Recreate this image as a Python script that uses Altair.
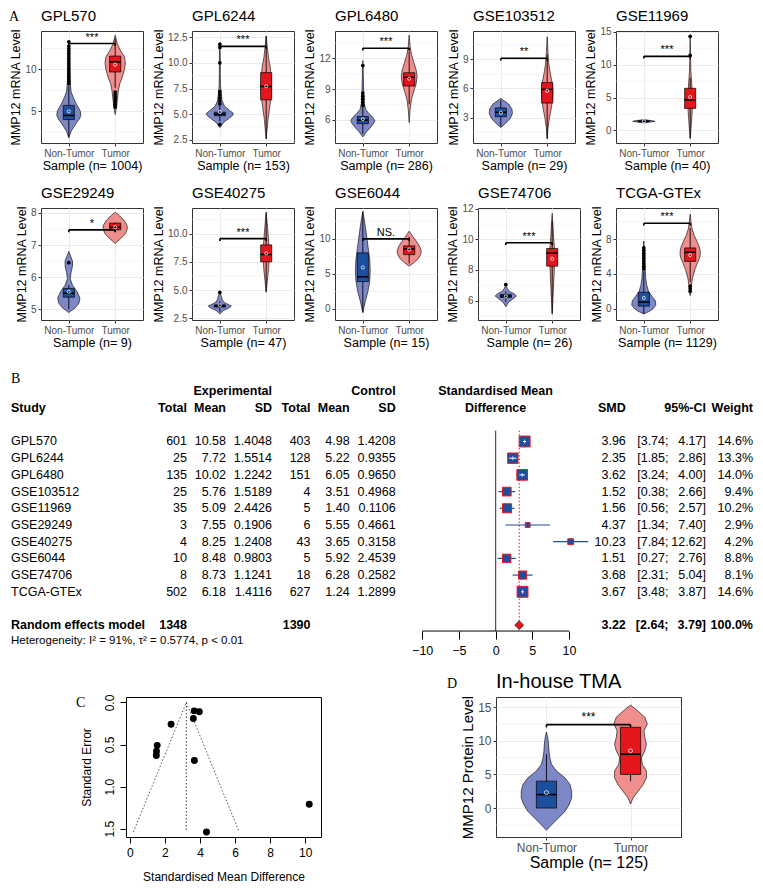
import altair as alt
import pandas as pd

FONT = "Liberation Sans"
SERIF = "Liberation Serif"

# ======================= DATA =======================
# ---- Panel A: per-dataset violin plots ----
PANELS = ["GPL570", "GPL6244", "GPL6480", "GSE103512", "GSE11969",
          "GSE29249", "GSE40275", "GSE6044", "GSE74706", "TCGA-GTEx"]
SAMPLE_N = [1004, 153, 286, 29, 40, 9, 47, 15, 26, 1129]
Y_DOMAIN = [[1.2, 14.6], [2.2, 13.1], [3.7, 14.7], [0.4, 11.9], [-1.9, 15.1],
            [4.67, 8.15], [2.36, 12.26], [-1.57, 14.4], [4.73, 12.05], [-1.3, 11.6]]
Y_TICKS = [[5, 10], [2.5, 5, 7.5, 10, 12.5], [6, 9, 12], [3, 6, 9], [0, 5, 10, 15],
           [5, 6, 7, 8], [2.5, 5, 7.5, 10], [0, 5, 10], [6, 8, 10, 12], [0, 4, 8]]
SIG = ["***", "***", "***", "**", "***", "*", "***", "NS.", "***", "***"]
BRACKET_Y = [13.1, 11.6, 13.0, 9.1, 11.25, 7.47, 9.55, 10.0, 9.78, 9.85]

# box statistics, Non-Tumor
NT_Q1 = [4.0, 4.85, 5.6, 3.1, 1.35, 5.38, 3.5, 3.9, 6.2, 0.3]
NT_MED = [4.5, 5.0, 5.95, 3.55, 1.4, 5.5, 3.6, 4.6, 6.3, 0.75]
NT_Q3 = [5.7, 5.2, 6.3, 4.0, 1.45, 5.65, 3.7, 8.0, 6.4, 1.9]
NT_LO = [2.0, 4.3, 4.6, 2.1, 1.25, 5.0, 3.1, -0.5, 5.9, -0.6]
NT_HI = [8.0, 5.8, 7.3, 4.8, 1.55, 5.75, 4.0, 13.9, 6.6, 4.3]
NT_OUT = [[8.3, 8.6, 8.9, 9.2, 9.5, 9.8, 10.1, 10.4, 10.7, 11.0, 11.3, 11.6, 11.9, 12.2,
           12.5, 12.8, 13.3],
          [4.0, 6.0, 6.3, 6.6, 6.9, 7.2, 10.0, 11.5, 11.8],
          [7.4, 7.7, 8.0, 8.3, 8.6, 11.3],
          [], [], [6.45], [4.8], [], [7.05],
          [4.6, 4.9, 5.2, 5.5, 5.8, 6.1, 6.4, 6.7, 7.0]]
# box statistics, Tumor
T_Q1 = [9.7, 6.4, 9.3, 4.5, 3.35, 7.47, 7.5, 7.75, 8.25, 5.45]
T_MED = [10.9, 7.7, 10.15, 5.9, 4.65, 7.55, 8.15, 8.55, 9.1, 6.5]
T_Q3 = [11.6, 9.05, 10.6, 6.6, 6.4, 7.68, 9.0, 9.0, 9.4, 7.0]
T_LO = [7.8, 2.6, 7.5, 0.9, -1.2, 7.4, 4.9, 6.5, 5.2, 3.1]
T_HI = [13.7, 12.6, 12.7, 9.5, 8.0, 7.7, 11.8, 10.3, 11.2, 9.3]
T_OUT = [[5.5, 5.8, 6.1, 6.4, 6.7, 7.0, 7.3], [], [], [], [11.4, 14.3],
         [], [], [], [], [2.0, 2.3, 2.6]]

# violin outlines (value, half width in category units)
NT_VY = [[1.8, 2.6, 3.5, 4.1, 4.5, 5.0, 5.5, 6.0, 6.6, 7.3, 8.5, 10, 11.5, 13.3],
         [3.7, 4.2, 4.6, 4.9, 5.1, 5.4, 5.8, 6.3, 7.0, 7.8, 9, 10.5, 12.0],
         [4.3, 4.8, 5.2, 5.6, 5.9, 6.2, 6.6, 7.0, 7.6, 8.5, 10, 11.8],
         [2.0, 2.4, 2.9, 3.4, 3.9, 4.4, 4.7, 5.0],
         [1.15, 1.3, 1.4, 1.5, 1.65],
         [4.9, 5.05, 5.2, 5.35, 5.55, 5.75, 5.95, 6.15, 6.35, 6.5, 6.65, 6.8],
         [2.9, 3.2, 3.45, 3.6, 3.75, 3.95, 4.2, 4.5, 4.8],
         [-0.5, 1, 2.5, 4, 5.5, 7, 8.5, 10, 11.5, 12.8, 13.9],
         [5.6, 5.9, 6.1, 6.3, 6.45, 6.6, 6.8, 7.05],
         [-0.6, -0.3, 0.0, 0.4, 0.9, 1.4, 2.0, 2.8, 3.6, 4.5, 5.5, 6.5, 7.8]]
NT_VW = [[0, 0.05, 0.15, 0.23, 0.26, 0.25, 0.2, 0.15, 0.1, 0.05, 0.03, 0.02, 0.015, 0],
         [0, 0.08, 0.2, 0.28, 0.29, 0.2, 0.1, 0.05, 0.03, 0.015, 0.01, 0.01, 0],
         [0, 0.08, 0.16, 0.23, 0.26, 0.22, 0.13, 0.06, 0.03, 0.02, 0.012, 0],
         [0, 0.1, 0.2, 0.25, 0.24, 0.17, 0.08, 0],
         [0, 0.16, 0.24, 0.16, 0],
         [0, 0.14, 0.22, 0.24, 0.18, 0.08, 0.03, 0.05, 0.08, 0.08, 0.04, 0],
         [0, 0.08, 0.21, 0.25, 0.17, 0.08, 0.05, 0.03, 0],
         [0, 0.05, 0.11, 0.15, 0.16, 0.15, 0.12, 0.09, 0.06, 0.03, 0],
         [0, 0.06, 0.15, 0.23, 0.18, 0.08, 0.03, 0],
         [0, 0.12, 0.2, 0.26, 0.25, 0.18, 0.1, 0.06, 0.04, 0.03, 0.02, 0.015, 0]]
T_VY = [[4.6, 5.5, 6.5, 7.5, 8.3, 9.2, 10.0, 10.8, 11.5, 12.2, 13.0, 14.1],
        [2.6, 3.5, 4.5, 5.5, 6.5, 7.5, 8.5, 9.5, 10.5, 11.5, 12.6],
        [5.7, 7.0, 8.0, 8.8, 9.5, 10.2, 10.9, 11.6, 12.4, 13.2, 14.3],
        [0.8, 2.0, 3.0, 4.0, 5.0, 5.7, 6.5, 7.5, 8.5, 9.5, 10.5, 11.3],
        [-1.2, 0, 1.5, 3, 4.5, 6, 7.5, 9, 11, 12.5, 14.3],
        [7.05, 7.2, 7.35, 7.5, 7.6, 7.75, 7.9, 8.02],
        [4.8, 6.0, 7.0, 8.0, 8.6, 9.5, 10.5, 11.9],
        [6.1, 6.6, 7.2, 7.8, 8.3, 9.0, 9.7, 10.3, 11.1],
        [5.1, 6.0, 7.0, 8.0, 8.8, 9.4, 10.2, 11.0, 11.7],
        [1.5, 2.5, 3.5, 4.5, 5.2, 5.8, 6.3, 6.9, 7.6, 8.4, 9.2, 10.0, 10.9]]
T_VW = [[0, 0.03, 0.05, 0.07, 0.1, 0.16, 0.2, 0.22, 0.2, 0.12, 0.05, 0],
        [0, 0.02, 0.04, 0.07, 0.1, 0.115, 0.11, 0.09, 0.05, 0.025, 0],
        [0, 0.02, 0.05, 0.1, 0.15, 0.17, 0.15, 0.1, 0.05, 0.02, 0],
        [0, 0.02, 0.05, 0.09, 0.12, 0.125, 0.11, 0.07, 0.035, 0.02, 0.01, 0],
        [0, 0.015, 0.03, 0.045, 0.05, 0.045, 0.03, 0.015, 0.008, 0.006, 0],
        [0, 0.12, 0.22, 0.26, 0.26, 0.2, 0.1, 0],
        [0, 0.03, 0.055, 0.065, 0.065, 0.05, 0.03, 0],
        [0, 0.1, 0.2, 0.25, 0.26, 0.22, 0.15, 0.08, 0],
        [0, 0.015, 0.03, 0.045, 0.055, 0.05, 0.03, 0.015, 0],
        [0, 0.02, 0.05, 0.1, 0.15, 0.2, 0.22, 0.21, 0.16, 0.09, 0.04, 0.02, 0]]

# ---- Panel B: meta-analysis table ----
STUDIES = PANELS
E_TOTAL = [601, 25, 135, 25, 35, 3, 4, 10, 8, 502]
E_MEAN = [10.58, 7.72, 10.02, 5.76, 5.09, 7.55, 8.25, 8.48, 8.73, 6.18]
E_SD = [1.4048, 1.5514, 1.2242, 1.5189, 2.4426, 0.1906, 1.2408, 0.9803, 1.1241, 1.4116]
C_TOTAL = [403, 128, 151, 4, 5, 6, 43, 5, 18, 627]
C_MEAN = [4.98, 5.22, 6.05, 3.51, 1.40, 5.55, 3.65, 5.92, 6.28, 1.24]
C_SD = [1.4208, 0.9355, 0.9650, 0.4968, 0.1106, 0.4661, 0.3158, 2.4539, 0.2582, 1.2899]
SMD = [3.96, 2.35, 3.62, 1.52, 1.56, 4.37, 10.23, 1.51, 3.68, 3.67]
CI_LO = [3.74, 1.85, 3.24, 0.38, 0.56, 1.34, 7.84, 0.27, 2.31, 3.48]
CI_HI = [4.17, 2.86, 4.00, 2.66, 2.57, 7.40, 12.62, 2.76, 5.04, 3.87]
WEIGHT = [14.6, 13.3, 14.0, 9.4, 10.2, 2.9, 4.2, 8.8, 8.1, 14.6]
CI_INSIDE = [True, True, True, False, False, False, False, False, False, True]
POOLED = [3.22, 2.64, 3.79]
POOLED_N = [1348, 1390]
HETERO = "Heterogeneity: I² = 91%, τ² = 0.5774, p < 0.01"
FOREST_TICKS = [-10, -5, 0, 5, 10]

# ---- Panel C: funnel plot ----
SE = [0.11, 0.26, 0.19, 0.58, 0.51, 1.54, 1.21, 0.63, 0.69, 0.10]
FUNNEL_X = [0.20, 3.22, 6.24]
FUNNEL_Y = [1.54, 0.0, 1.54]

# ---- Panel D: in-house TMA ----
TMA_N = 125
TMA_STATS_NT = [0.0, 2.0, 4.0, 0.0, 8.0, 2.3]   # q1, med, q3, lo, hi, mean
TMA_STATS_T = [5.0, 8.0, 12.0, 4.0, 12.0, 8.5]
TMA_NT_VY = [-3.3, -2.5, -1.5, -0.5, 0.5, 1.5, 2.5, 3.5, 4.5, 5.5, 6.5, 7.5, 8.5, 9.5, 10.5, 11.3]
TMA_NT_VW = [0, 0.06, 0.14, 0.22, 0.27, 0.3, 0.3, 0.28, 0.22, 0.12, 0.06, 0.04, 0.03, 0.025, 0.015, 0]
TMA_T_VY = [0.6, 1.5, 2.5, 3.5, 4.5, 5.5, 6.5, 7.5, 8.5, 9.5, 10.5, 11.5, 12.5, 13.5, 14.5, 15.3]
TMA_T_VW = [0, 0.03, 0.09, 0.15, 0.19, 0.19, 0.14, 0.13, 0.17, 0.19, 0.17, 0.16, 0.2, 0.17, 0.08, 0]
TMA_DOMAIN = [-4.3, 16.5]
TMA_TICKS = [0, 5, 10, 15]
TMA_BRACKET = 12.4

# ======================= STYLE =======================
GROUPS = ["Non-Tumor", "Tumor"]
VIOLIN_FILL = ["#7F88C7", "#F08D8D"]
BOX_FILL = ["#1D4F9F", "#E3161D"]
BOX_HALF = 0.12
GRID = "#EBEBEB"
BLUE = "#1D4F9F"


def minor_values(ticks, dom):
    step = ticks[1] - ticks[0]
    vals = [t - step / 2 for t in ticks] + [ticks[-1] + step / 2]
    return [v for v in vals if dom[0] < v < dom[1]]


def text_mark(t, x, y, size, font=FONT, align="left", baseline="alphabetic", weight="normal"):
    return alt.Chart(pd.DataFrame([{"t": t}])).mark_text(
        font=font, fontSize=size, align=align, baseline=baseline, fontWeight=weight,
        color="black").encode(x=alt.value(x), y=alt.value(y), text="t:N")


def violin_panel(title, n, ytitle, ydom, yticks, sig, by, stats, outs, prof,
                 W, H, fs, title_y, label=None, label_xy=None):
    xs = alt.Scale(domain=[0.4, 2.6], nice=False, zero=False)
    ys = alt.Scale(domain=ydom, nice=False, zero=False)
    fmt = "d" if all(float(t).is_integer() for t in yticks) else ".1f"
    xaxis = alt.Axis(values=[1, 2], labelExpr="datum.value == 1 ? 'Non-Tumor' : 'Tumor'",
                     title=f"Sample (n= {n})", titleFontSize=fs["xt"], titleFontWeight="normal",
                     titleColor="black", titlePadding=1, labelColor="#4D4D4D",
                     labelFontSize=fs["lab"], labelPadding=2, tickSize=3, tickColor="#333333",
                     domain=False, gridColor=GRID, labelFont=FONT, titleFont=FONT)
    yaxis = alt.Axis(values=yticks, format=fmt, title=ytitle, titleFontSize=fs["yt"],
                     titleFontWeight="normal", titleColor="black", titlePadding=2,
                     labelColor="#4D4D4D", labelFontSize=fs["lab"], labelPadding=2,
                     tickSize=3, tickColor="#333333", domain=False, gridColor=GRID,
                     labelFont=FONT, titleFont=FONT)

    def X(f):
        return alt.X(f, scale=xs, axis=xaxis, stack=None)

    def Y(f):
        return alt.Y(f, scale=ys, axis=yaxis, stack=None)

    vlayers = []
    for gi, g in enumerate(GROUPS):
        c = gi + 1
        yy, ww = prof[gi]
        vdf = pd.DataFrame({"y": yy, "x1": [c - b for b in ww], "x2": [c + b for b in ww]})
        vlayers.append(alt.Chart(vdf).mark_area(
            orient="horizontal", stroke="black", strokeWidth=0.6, fill=VIOLIN_FILL[gi],
            opacity=1).encode(y=Y("y:Q"), x=X("x1:Q"), x2="x2:Q"))
    brows = []
    for gi, g in enumerate(GROUPS):
        q1, med, q3, lo, hi, mean = stats[gi]
        c = gi + 1
        brows.append({"grp": g, "c": c, "xl": c - BOX_HALF, "xr": c + BOX_HALF,
                      "q1": q1, "med": med, "q3": q3, "lo": lo, "hi": hi, "mean": mean,
                      "fill": BOX_FILL[gi]})
    bdf = pd.DataFrame(brows)
    orows = []
    for gi in range(2):
        for v in outs[gi]:
            orows.append({"c": gi + 1, "v": v})
    tip = (ydom[1] - ydom[0]) * 0.02
    kdf = pd.DataFrame([
        {"x1": 1, "x2": 2, "y1": by, "y2": by},
        {"x1": 1, "x2": 1, "y1": by - tip, "y2": by},
        {"x1": 2, "x2": 2, "y1": by - tip, "y2": by},
    ])
    sdf = pd.DataFrame([{"x": 1.5, "y": by, "t": sig}])
    mdf = pd.DataFrame({"v": minor_values(yticks, ydom)})

    layers = [alt.Chart(mdf).mark_rule(color=GRID, strokeWidth=0.5).encode(y=Y("v:Q"))]
    layers += vlayers
    layers += [
        alt.Chart(bdf).mark_rule(color="black", strokeWidth=0.9).encode(
            x=X("c:Q"), y=Y("lo:Q"), y2="hi:Q"),
        alt.Chart(bdf).mark_rect(stroke="black", strokeWidth=0.7).encode(
            x=X("xl:Q"), x2="xr:Q", y=Y("q1:Q"), y2="q3:Q",
            fill=alt.Fill("fill:N", scale=None)),
        alt.Chart(bdf).mark_rule(color="black", strokeWidth=1.6).encode(
            x=X("xl:Q"), x2="xr:Q", y=Y("med:Q")),
    ]
    if orows:
        layers.append(alt.Chart(pd.DataFrame(orows)).mark_circle(
            color="black", size=fs["out"], opacity=1).encode(x=X("c:Q"), y=Y("v:Q")))
    layers += [
        alt.Chart(bdf).mark_point(shape="circle", filled=False, color="#FFF0F0",
                                  size=fs["mean"], strokeWidth=0.8, opacity=1).encode(
            x=X("c:Q"), y=Y("mean:Q")),
        alt.Chart(kdf).mark_rule(color="black", strokeWidth=1.6).encode(
            x=X("x1:Q"), x2="x2:Q", y=Y("y1:Q"), y2="y2:Q"),
        alt.Chart(sdf).mark_text(font=FONT, fontSize=fs["sig"], baseline="bottom",
                                 dy=-1, color="black").encode(
            x=X("x:Q"), y=Y("y:Q"), text="t:N"),
        text_mark(title, 0, title_y, fs["title"]),
    ]
    if label:
        layers.append(text_mark(label, label_xy[0], label_xy[1], fs["panel"], font=SERIF))
    return alt.layer(*layers).properties(
        width=W, height=H, view=alt.ViewBackground(stroke="#333333", strokeWidth=1))


A_W, A_H = 102, 112
FS_A = {"xt": 12.5, "yt": 12.5, "lab": 10, "title": 15, "sig": 11, "out": 14,
        "mean": 10, "panel": 14}
A_LEFT = 32          # left extension of the first panel of each row (column origin)

a_charts = []
for i in range(10):
    stats = [[NT_Q1[i], NT_MED[i], NT_Q3[i], NT_LO[i], NT_HI[i], C_MEAN[i]],
             [T_Q1[i], T_MED[i], T_Q3[i], T_LO[i], T_HI[i], E_MEAN[i]]]
    a_charts.append(violin_panel(
        PANELS[i], SAMPLE_N[i], "MMP12 mRNA Level", Y_DOMAIN[i], Y_TICKS[i], SIG[i],
        BRACKET_Y[i], stats, [NT_OUT[i], T_OUT[i]],
        [[NT_VY[i], NT_VW[i]], [T_VY[i], T_VW[i]]], A_W, A_H, FS_A, -10,
        label="A" if i == 0 else None, label_xy=(-A_LEFT, -10)))

rowA1 = alt.hconcat(*a_charts[:5], spacing=8)
rowA2 = alt.hconcat(*a_charts[5:], spacing=8)

# ======================= PANEL B =======================
B_W = 745 - A_LEFT
ROW_STEP = 16.7
ROW_DOM = [-4.7, 11.35]
B_H = (ROW_DOM[1] - ROW_DOM[0]) * ROW_STEP
ysb = alt.Scale(domain=ROW_DOM, nice=False, zero=False, reverse=True)
PX_PER = 7.34
X0 = 486.6 - A_LEFT
xsb = alt.Scale(domain=[-X0 / PX_PER, (B_W - X0) / PX_PER], nice=False, zero=False)
faxis = alt.Axis(values=FOREST_TICKS, domain=False, grid=False, ticks=True, tickSize=8,
                 tickColor="black", labelColor="black", labelFontSize=12.5, labelFont=FONT,
                 labelPadding=5, title=None, labelFlush=False)
COL = {k: v - A_LEFT for k, v in
       {"study": 2, "e_total": 178, "e_mean": 217, "e_sd": 263, "c_total": 301.5,
        "c_mean": 340.7, "c_sd": 386.7, "smd_t": 616.8, "ci_lo": 659.5, "ci_hi": 697,
        "weight": 744}.items()}

tab = pd.DataFrame({
    "row": list(range(len(STUDIES))),
    "study": STUDIES,
    "e_total": [str(v) for v in E_TOTAL],
    "e_mean": [f"{v:.2f}" for v in E_MEAN],
    "e_sd": [f"{v:.4f}" for v in E_SD],
    "c_total": [str(v) for v in C_TOTAL],
    "c_mean": [f"{v:.2f}" for v in C_MEAN],
    "c_sd": [f"{v:.4f}" for v in C_SD],
    "smd_t": [f"{v:.2f}" for v in SMD],
    "ci_lo": [f"[{v:.2f};" for v in CI_LO],
    "ci_hi": [f"{v:.2f}]" for v in CI_HI],
    "weight": [f"{v:.1f}%" for v in WEIGHT],
    "smd": SMD, "lo": CI_LO, "hi": CI_HI, "w": WEIGHT, "inside": CI_INSIDE,
})


def tcol(field, align):
    return alt.Chart(tab).mark_text(align=align, baseline="middle", font=FONT, fontSize=12.5,
                                    color="black").encode(
        x=alt.value(COL[field]), y=alt.Y("row:Q", scale=ysb, axis=None), text=f"{field}:N")


def label(text, x, row, align="right", bold=True, size=12.5, font=FONT):
    return alt.Chart(pd.DataFrame([{"t": text, "row": row}])).mark_text(
        align=align, baseline="middle", font=font, fontSize=size,
        fontWeight="bold" if bold else "normal", color="black").encode(
        x=alt.value(x), y=alt.Y("row:Q", scale=ysb, axis=None), text="t:N")


def FX(f):
    return alt.X(f, scale=xsb, axis=faxis)


pool = pd.DataFrame([{"smd": POOLED[0], "lo": POOLED[1], "hi": POOLED[2], "row": 11}])
vlines = pd.DataFrame([{"x": 0, "y1": -0.65, "y2": ROW_DOM[1]}])
rlines = pd.DataFrame([{"x": POOLED[0], "y1": -0.65, "y2": 11}])
axline = pd.DataFrame([{"x1": FOREST_TICKS[0], "x2": FOREST_TICKS[-1]}])

b_layers = [
    alt.Chart(vlines).mark_rule(color="#555555", strokeWidth=1.3).encode(
        x=FX("x:Q"), y=alt.Y("y1:Q", scale=ysb, axis=None), y2="y2:Q"),
    alt.Chart(rlines).mark_rule(color="#E8141C", strokeWidth=1, strokeDash=[1.5, 2]).encode(
        x=FX("x:Q"), y=alt.Y("y1:Q", scale=ysb, axis=None), y2="y2:Q"),
    alt.Chart(axline).mark_rule(color="black", strokeWidth=1).encode(
        x=FX("x1:Q"), x2="x2:Q", y=alt.value(B_H)),
    alt.Chart(tab).mark_rule(color=BLUE, strokeWidth=1.2).encode(
        x=FX("lo:Q"), x2="hi:Q", y=alt.Y("row:Q", scale=ysb, axis=None)),
    alt.Chart(tab).mark_square(color=BLUE, stroke="#E8141C", strokeWidth=1, opacity=1).encode(
        x=FX("smd:Q"), y=alt.Y("row:Q", scale=ysb, axis=None),
        size=alt.Size("w:Q", scale=alt.Scale(domain=[0, 14.6], range=[0, 118]), legend=None)),
    alt.Chart(tab[tab["inside"]]).mark_rule(color="white", strokeWidth=1).encode(
        x=FX("lo:Q"), x2="hi:Q", y=alt.Y("row:Q", scale=ysb, axis=None)),
    alt.Chart(tab[tab["inside"]]).mark_tick(color="white", thickness=1, size=4,
                                            orient="vertical").encode(
        x=FX("smd:Q"), y=alt.Y("row:Q", scale=ysb, axis=None)),
    alt.Chart(pool).mark_point(shape="diamond", filled=True, color="#E8141C", stroke="#222222",
                               strokeWidth=0.8, size=78, opacity=1).encode(
        x=FX("smd:Q"), y=alt.Y("row:Q", scale=ysb, axis=None)),
    tcol("study", "left"), tcol("e_total", "right"), tcol("e_mean", "right"),
    tcol("e_sd", "right"), tcol("c_total", "right"), tcol("c_mean", "right"),
    tcol("c_sd", "right"), tcol("smd_t", "right"), tcol("ci_lo", "right"),
    tcol("ci_hi", "right"), tcol("weight", "right"),
    label("B", COL["study"], -3.75, align="left", bold=False, size=14, font=SERIF),
    label("Experimental", COL["e_sd"], -3),
    label("Control", COL["c_sd"], -3),
    label("Standardised Mean", X0, -3, align="center"),
    label("Study", COL["study"], -2, align="left"),
    label("Total", COL["e_total"], -2), label("Mean", COL["e_mean"], -2),
    label("SD", COL["e_sd"], -2), label("Total", COL["c_total"], -2),
    label("Mean", COL["c_mean"], -2), label("SD", COL["c_sd"], -2),
    label("Difference", X0, -2, align="center"),
    label("SMD", COL["smd_t"], -2), label("95%-CI", COL["ci_hi"], -2),
    label("Weight", COL["weight"], -2),
    label("Random effects model", COL["study"], 11, align="left"),
    label(str(POOLED_N[0]), COL["e_total"], 11), label(str(POOLED_N[1]), COL["c_total"], 11),
    label(f"{POOLED[0]:.2f}", COL["smd_t"], 11),
    label(f"[{POOLED[1]:.2f};", COL["ci_lo"], 11), label(f"{POOLED[2]:.2f}]", COL["ci_hi"], 11),
    label("100.0%", COL["weight"], 11),
    label(HETERO, COL["study"], 11.95, align="left", bold=False, size=11.5),
]
panelB = alt.layer(*b_layers).properties(
    width=B_W, height=B_H, view=alt.ViewBackground(stroke="transparent"))

# ======================= PANEL C =======================
C_W, C_H = 195, 140
xsc = alt.Scale(domain=[-0.22, 10.9], nice=False, zero=False)
ysc = alt.Scale(domain=[-0.065, 1.6], nice=False, zero=False, reverse=True)
cx_axis = alt.Axis(values=[0, 2, 4, 6, 8, 10], format="d", domain=False, grid=False,
                   tickSize=6, tickColor="black", labelColor="black", labelFontSize=12,
                   labelFont=FONT, labelPadding=4, title="Standardised Mean Difference",
                   titleFont=FONT, titleFontSize=12, titleFontWeight="normal",
                   titleColor="black", titlePadding=13)
cy_axis = alt.Axis(values=[0, 0.5, 1.0, 1.5], format=".1f", domain=False, grid=False,
                   tickSize=6, tickColor="black", labelColor="black", labelFontSize=12,
                   labelFont=FONT, labelAngle=-90, labelAlign="center", labelBaseline="bottom",
                   labelPadding=4, title="Standard Error", titleFont=FONT, titleFontSize=12,
                   titleFontWeight="normal", titleColor="black", titlePadding=10)
fdf = pd.DataFrame({"x": FUNNEL_X, "y": FUNNEL_Y, "k": [0, 1, 2]})
mid = pd.DataFrame({"x": [FUNNEL_X[1], FUNNEL_X[1]], "y": [FUNNEL_Y[1], FUNNEL_Y[0]], "k": [0, 1]})
pdf = pd.DataFrame({"x": SMD, "y": SE})
c_layers = [
    alt.Chart(fdf).mark_line(color="#444444", strokeWidth=0.9, strokeDash=[1.5, 2]).encode(
        x=alt.X("x:Q", scale=xsc, axis=cx_axis), y=alt.Y("y:Q", scale=ysc, axis=cy_axis),
        order="k:Q"),
    alt.Chart(mid).mark_line(color="#222222", strokeWidth=0.9, strokeDash=[1.5, 2]).encode(
        x=alt.X("x:Q", scale=xsc, axis=cx_axis), y=alt.Y("y:Q", scale=ysc, axis=cy_axis),
        order="k:Q"),
    alt.Chart(pdf).mark_circle(color="black", size=48, opacity=1).encode(
        x=alt.X("x:Q", scale=xsc, axis=cx_axis), y=alt.Y("y:Q", scale=ysc, axis=cy_axis)),
    text_mark("C", -50, 10, 14, font=SERIF),
]
panelC = alt.layer(*c_layers).properties(
    width=C_W, height=C_H, view=alt.ViewBackground(stroke="black", strokeWidth=1))

# ======================= PANEL D =======================
FS_D = {"xt": 16, "yt": 15, "lab": 12, "title": 20, "sig": 12, "out": 18, "mean": 16,
        "panel": 14}
panelD = violin_panel(
    "In-house TMA", TMA_N, "MMP12 Protein Level", TMA_DOMAIN, TMA_TICKS, "***", TMA_BRACKET,
    [TMA_STATS_NT, TMA_STATS_T], [[], []],
    [[TMA_NT_VY, TMA_NT_VW], [TMA_T_VY, TMA_T_VW]], 185, 140, FS_D, -9,
    label="D", label_xy=(-49, -9))

spacer = alt.Chart(pd.DataFrame([{"a": 0}])).mark_point(opacity=0).encode(
    x=alt.value(0), y=alt.value(0)).properties(
    width=33, height=10, view=alt.ViewBackground(stroke="transparent"))
rowCD = alt.hconcat(spacer, alt.hconcat(panelC, panelD, spacing=124), spacing=0)

chart = alt.vconcat(rowA1, rowA2, panelB, rowCD, spacing=13).properties(
    padding=0).configure(font=FONT).configure_view(stroke="#333333")

chart.save("out.html", embed_options={"renderer": "svg", "actions": False})
